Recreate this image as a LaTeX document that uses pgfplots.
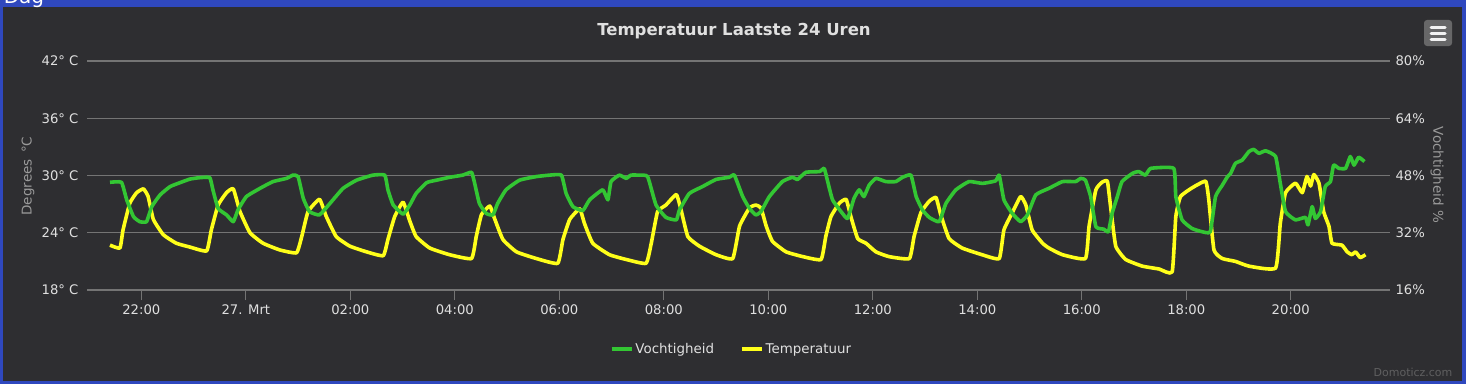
\documentclass[border=0pt]{standalone}
\usepackage{pgfplots}
\pgfplotsset{compat=1.18}
\usepackage{pgfplotstable}
\usepackage{fontspec}
\setmainfont{DejaVu Sans}
\definecolor{bgdark}{HTML}{2E2E31}
\definecolor{frameblue}{HTML}{2F48BE}
\definecolor{gridgray}{HTML}{747474}
\definecolor{ticktext}{HTML}{E0E0E0}
\definecolor{titlegray}{HTML}{9A9A9A}
\definecolor{humgreen}{HTML}{33C633}
\definecolor{tempyellow}{HTML}{FFFF1A}

\pgfplotstableread{
h T
-2.60 22.7
-2.41 22.4
-2.35 24.3
-2.22 27.1
-2.09 28.2
-1.96 28.6
-1.87 27.8
-1.77 25.4
-1.58 23.8
-1.33 22.9
-1.07 22.5
-0.75 22.1
-0.66 24.3
-0.53 26.9
-0.37 28.2
-0.24 28.6
-0.11 26.2
0.08 24.0
0.33 22.9
0.65 22.2
0.97 21.9
1.07 23.6
1.19 26.2
1.41 27.5
1.54 25.7
1.73 23.6
1.99 22.6
2.31 22.0
2.63 21.6
2.72 23.3
2.85 25.7
3.01 27.2
3.14 25.2
3.26 23.6
3.52 22.4
3.90 21.7
4.32 21.3
4.41 23.6
4.51 25.9
4.67 26.8
4.76 25.5
4.92 23.3
5.18 22.0
5.56 21.3
5.97 20.8
6.07 23.3
6.20 25.4
6.39 26.5
6.48 25.0
6.64 22.9
6.96 21.7
7.28 21.2
7.66 20.8
7.76 22.9
7.88 26.2
8.04 26.9
8.24 28.0
8.33 26.4
8.46 23.6
8.68 22.6
9.00 21.7
9.32 21.3
9.45 24.7
9.64 26.6
9.76 26.9
9.86 26.6
9.96 24.7
10.08 23.1
10.34 22.0
10.66 21.5
11.01 21.2
11.10 23.6
11.20 25.7
11.36 27.1
11.49 27.5
11.58 25.7
11.71 23.4
11.87 22.9
12.06 22.0
12.31 21.5
12.70 21.3
12.79 23.6
12.92 26.1
13.08 27.3
13.21 27.7
13.30 25.9
13.46 23.4
13.71 22.4
14.09 21.7
14.42 21.3
14.51 24.3
14.67 26.1
14.83 27.8
14.93 26.9
15.05 24.3
15.25 22.9
15.37 22.4
15.63 21.7
16.07 21.3
16.14 24.7
16.27 28.5
16.39 29.3
16.49 29.4
16.55 26.8
16.65 22.6
16.84 21.2
17.16 20.5
17.48 20.2
17.73 19.9
17.80 25.7
17.89 27.8
18.11 28.7
18.37 29.4
18.43 27.5
18.53 22.2
18.69 21.3
18.94 21.0
19.20 20.5
19.71 20.3
19.80 25.0
19.90 28.2
20.09 29.2
20.22 28.2
20.31 29.9
20.38 28.9
20.44 30.1
20.54 29.2
20.63 26.2
20.73 24.7
20.79 22.9
20.98 22.7
21.08 22.0
21.17 21.7
21.24 22.0
21.33 21.4
21.43 21.7
}\temptable

\pgfplotstableread{
h H
-2.60 46.1
-2.38 46.1
-2.28 41.2
-2.15 36.5
-2.03 35.1
-1.90 35.1
-1.80 39.3
-1.64 42.6
-1.45 44.9
-1.26 46.0
-1.07 47.0
-0.88 47.4
-0.69 47.4
-0.63 44.0
-0.53 38.8
-0.37 37.0
-0.24 35.1
-0.15 38.4
0.01 42.1
0.27 44.4
0.52 46.3
0.78 47.2
0.90 48.1
1.00 47.7
1.10 41.6
1.22 37.9
1.41 37.0
1.61 40.2
1.86 44.4
2.12 46.7
2.43 48.1
2.66 48.1
2.72 44.0
2.82 39.8
3.01 37.2
3.14 39.8
3.26 43.0
3.46 46.0
3.65 46.7
3.90 47.5
4.15 48.1
4.32 48.9
4.38 45.8
4.47 40.2
4.60 37.4
4.73 37.0
4.82 40.2
4.98 44.0
5.24 46.7
5.56 47.7
5.81 48.1
6.04 48.1
6.13 43.0
6.26 39.3
6.45 38.2
6.58 41.2
6.83 44.0
6.93 41.2
6.99 46.3
7.15 48.1
7.28 47.2
7.37 48.1
7.53 48.1
7.69 47.7
7.85 39.8
8.04 36.3
8.24 35.6
8.30 38.4
8.49 43.0
8.74 44.9
9.00 46.9
9.25 47.5
9.35 48.1
9.51 42.1
9.64 38.8
9.76 37.0
9.86 37.9
10.02 42.1
10.27 46.3
10.46 47.5
10.56 46.9
10.72 48.9
10.98 49.1
11.07 50.0
11.13 46.7
11.23 41.2
11.42 37.4
11.52 36.0
11.64 41.6
11.74 44.0
11.83 42.1
11.93 45.3
12.06 47.2
12.25 46.3
12.44 46.3
12.57 47.5
12.73 48.1
12.83 42.1
12.95 38.4
13.08 36.3
13.27 35.1
13.40 40.2
13.59 44.0
13.84 46.3
14.10 45.8
14.35 46.5
14.42 48.1
14.51 41.2
14.67 37.4
14.83 35.1
14.96 37.0
15.12 42.6
15.37 44.4
15.63 46.3
15.88 46.3
15.98 47.2
16.07 46.7
16.17 42.1
16.27 33.7
16.42 33.0
16.51 32.3
16.58 37.4
16.68 42.1
16.77 46.3
16.97 48.6
17.09 49.1
17.22 48.1
17.32 50.0
17.76 50.0
17.80 42.1
17.92 35.6
18.11 33.2
18.30 32.3
18.46 32.3
18.56 42.1
18.69 45.3
18.79 47.7
18.85 48.6
18.94 51.4
19.07 52.3
19.20 54.7
19.29 55.3
19.39 54.2
19.52 54.9
19.71 53.3
19.80 45.8
19.90 37.9
20.09 35.6
20.28 36.3
20.33 34.2
20.41 39.3
20.47 36.0
20.57 37.9
20.66 44.9
20.76 46.3
20.82 50.9
20.92 50.0
21.05 50.0
21.14 53.3
21.21 50.9
21.30 53.1
21.41 51.9
}\humtable

\begin{document}
\begin{tikzpicture}[x=1pt,y=1pt]
\useasboundingbox (0,0) rectangle (1466,384);
\begin{scope}
\clip (0,0) rectangle (1466,384);
\fill[frameblue] (0,0) rectangle (1466,384);
\fill[bgdark] (3,3) rectangle (1462,377);
\node[anchor=base, text=white, font=\fontsize{20}{24}\selectfont] at (24,381) {Dag};
\end{scope}

% title
\node[text=ticktext, font=\fontsize{16.5}{20}\selectfont\bfseries] at (734,353) {Temperatuur Laatste 24 Uren};
% axis titles
\node[text=titlegray, rotate=90, font=\fontsize{13.5}{16}\selectfont] at (28,208) {Degrees \,°C};
\node[text=titlegray, rotate=-90, font=\fontsize{13.5}{16}\selectfont] at (1437,209) {Vochtigheid \%};
% menu button
\fill[fill=gray!70!bgdark, rounded corners=3pt] (1424,338) rectangle (1452,364);
\foreach \yy in {345,351,357} {\draw[white!90!gray, line width=3pt, line cap=round] (1431,\yy) -- (1445,\yy);}
% credit
\node[text=gray!60!bgdark, font=\fontsize{11}{13}\selectfont] at (1413,12) {Domoticz.com};

\begin{axis}[
  at={(87pt,94pt)}, anchor=south west,
  scale only axis, width=1303pt, height=229pt,
  xmin=-3.04, xmax=21.9, ymin=18, ymax=42,
  axis x line*=bottom, axis y line*=left,
  x axis line style={draw=gridgray, line width=1.2pt, -},
  y axis line style={draw=none},
  xtick={-2,0,2,4,6,8,10,12,14,16,18,20},
  xticklabels={22:00,27. Mrt,02:00,04:00,06:00,08:00,10:00,12:00,14:00,16:00,18:00,20:00},
  xtick style={draw=gridgray, line width=1pt},
  tick align=outside, major tick length=10pt,
  ytick={18,24,30,36,42},
  yticklabels={18° C,24° C,30° C,36° C,42° C},
  ytick style={draw=none},
  ymajorgrids, grid style={draw=gridgray, line width=1.2pt},
  tick label style={text=ticktext, font=\fontsize{13.2}{16}\selectfont},
  xticklabel style={yshift=-1pt},
  yticklabel style={xshift=5pt},
  clip=false,
]
\addplot[tempyellow, line width=3.6pt, line join=round, smooth, tension=0.25] table[x=h, y=T] {\temptable};
\end{axis}

\begin{axis}[
  at={(87pt,94pt)}, anchor=south west,
  scale only axis, width=1303pt, height=229pt,
  xmin=-3.04, xmax=21.9, ymin=16, ymax=80,
  axis x line=none, axis y line*=right,
  y axis line style={draw=none},
  ytick={16,32,48,64,80},
  yticklabels={16\%,32\%,48\%,64\%,80\%},
  ytick style={draw=none},
  tick label style={text=ticktext, font=\fontsize{13.2}{16}\selectfont},
  yticklabel style={xshift=2pt},
  legend style={at={(0.4946,-0.258)}, anchor=center, draw=none, fill=none,
    text=ticktext, font=\fontsize{13.4}{16}\selectfont,
    /tikz/every even column/.append style={column sep=24pt}},
  legend columns=2,
  legend image code/.code={\draw[#1] (0pt,0pt) -- (20pt,0pt);},
  clip=false,
]
\addplot[humgreen, line width=3.6pt, line join=round, smooth, tension=0.25] table[x=h, y=H] {\humtable};
\addlegendentry{Vochtigheid}
\addlegendimage{tempyellow, line width=3.6pt}
\addlegendentry{Temperatuur}
\end{axis}
\end{tikzpicture}
\end{document}
